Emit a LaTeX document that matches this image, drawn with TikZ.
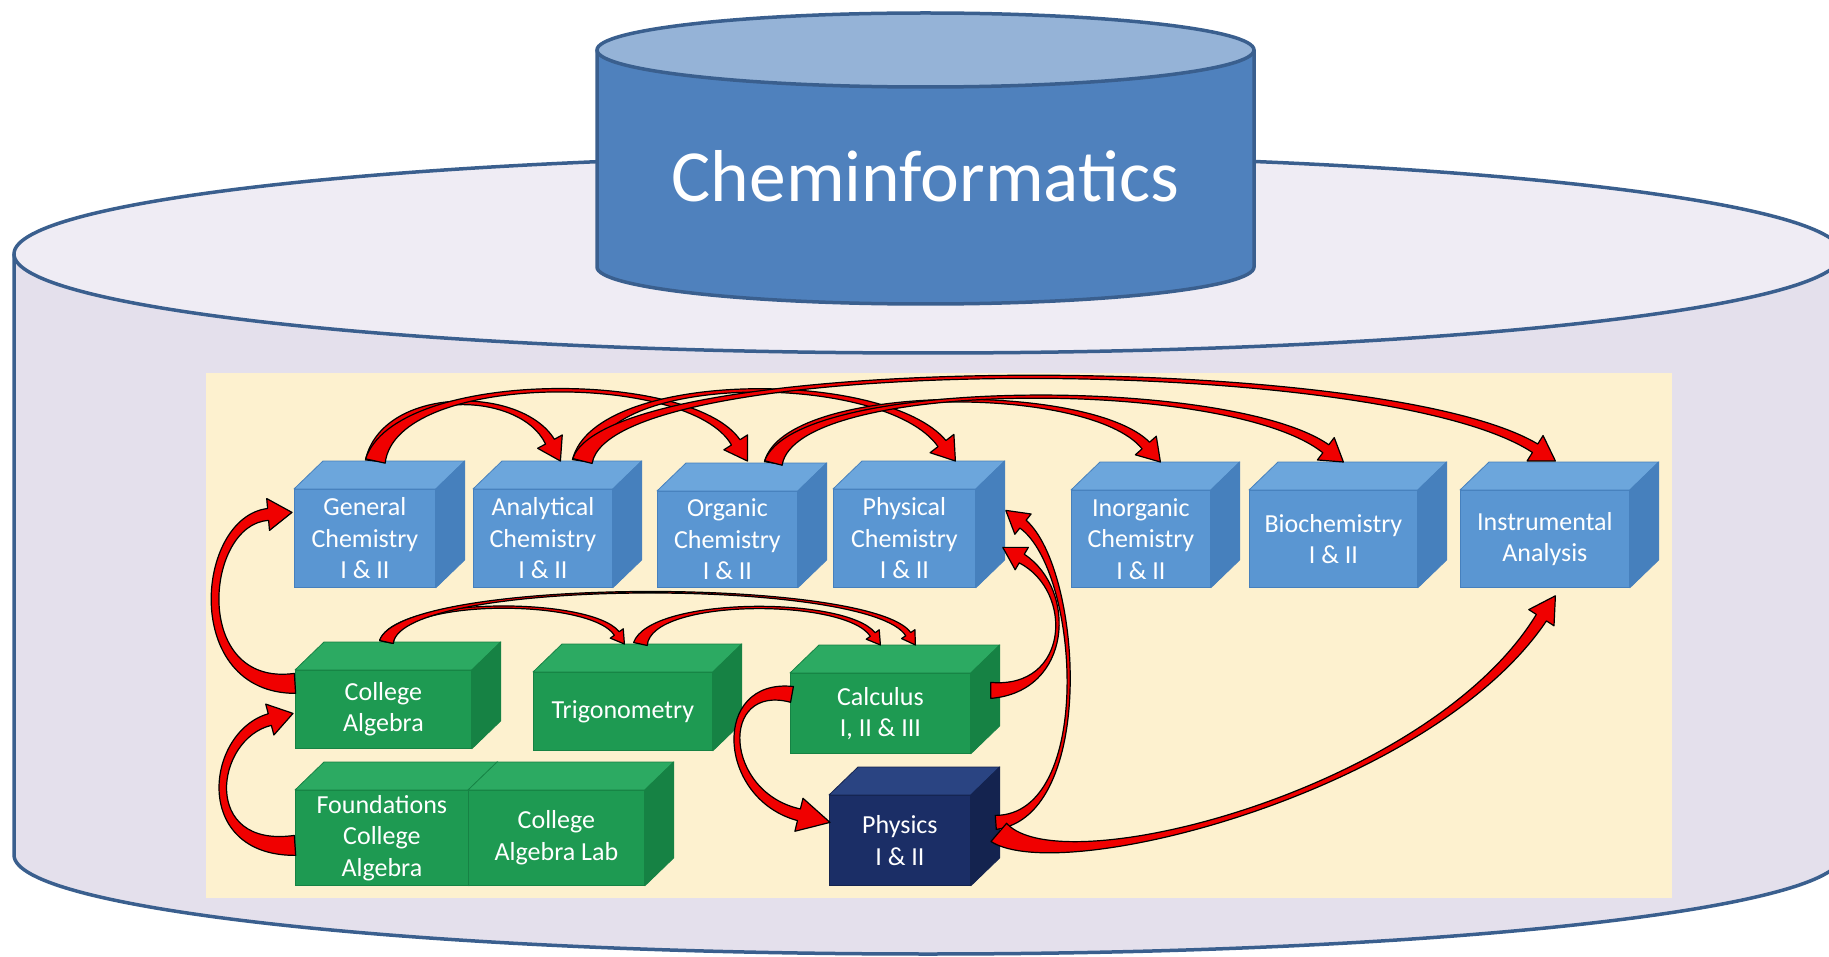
\documentclass[tikz,border=0pt]{standalone}
\usepackage{fontspec}
\usetikzlibrary{calc}
\newfontfamily\boxfont{Carlito}
\definecolor{cylline}{HTML}{3A5F8E}
\definecolor{lavside}{HTML}{E4E0EC}
\definecolor{lavtop}{HTML}{EFECF4}
\definecolor{drumbody}{HTML}{4F81BD}
\definecolor{drumtop}{HTML}{95B3D7}
\definecolor{panel}{HTML}{FDF1CF}
\definecolor{arrowred}{HTML}{F00000}
\definecolor{blufront}{HTML}{5A96D2}
\definecolor{blutop}{HTML}{6CA6DC}
\definecolor{bluside}{HTML}{4680BD}
\definecolor{grnfront}{HTML}{1E9A52}
\definecolor{grntop}{HTML}{2CAA62}
\definecolor{grnside}{HTML}{168244}
\definecolor{navfront}{HTML}{1B2E66}
\definecolor{navtop}{HTML}{2A4482}
\definecolor{navside}{HTML}{14234F}
\tikzset{
  box/.style={rectangle,inner sep=0pt,anchor=north west,line width=0.8pt,text=white,align=center,font=\boxfont\fontsize{26}{31.5}\selectfont},
  face/.style={line width=0.8pt,line join=round},
  ribbon/.style={fill=arrowred,draw=black,line width=1.2pt,line join=round},
  drum/.style={draw=cylline,line width=3.5pt}
}
\newcommand{\coursebox}[6]{%
  \node[box,fill=#5front,draw=#5side,minimum width=#3pt,minimum height=#4pt](#1)at#2{#6};
  \filldraw[face,fill=#5top,draw=#5side](#1.north west)--++(29,-28)--($(#1.north east)+(29,-28)$)--(#1.north east)--cycle;
  \filldraw[face,fill=#5side,draw=#5side](#1.north east)--++(29,-28)--($(#1.south east)+(29,-28)$)--(#1.south east)--cycle;}
\newcommand{\ribbonarrow}[9]{%
  \coordinate(rs)at#1; \coordinate(rt)at#4;
  \coordinate(ra)at($(rs)+#2$); \coordinate(rb)at($(rt)+#3$);
  \coordinate(rh)at($(rt)!#8!(rb)$);
  \coordinate(ra1)at($(rs)!#9!90:(rb)$); \coordinate(rb1)at($(ra)!#9!90:(rt)$);
  \filldraw[ribbon]($(rs)!#5!90:(ra)$)..controls($(ra)+(ra1)-(rs)$)and($(rb)+(rb1)-(ra)$)..($(rh)!#6!90:(rt)$)--($(rh)!#7!90:(rt)$)--(rt)
    --($(rh)!#7!-90:(rt)$)--($(rh)!#6!-90:(rt)$)..controls($(rb)-(rb1)+(ra)$)and($(ra)-(ra1)+(rs)$)..($(rs)!#5!-90:(ra)$)--cycle;}

\begin{document}
\begin{tikzpicture}[x=1pt,y=-1pt]
\useasboundingbox(0,0)rectangle(1829,957);
\clip(0,0)rectangle(1829,957);
\filldraw[drum,fill=lavside](14,254)--(14,855)arc[start angle=180,end angle=0,x radius=914,y radius=99]--(1842,254);
\filldraw[drum,fill=lavtop](928,254)ellipse[x radius=914,y radius=99];
\filldraw[drum,fill=drumbody](597,50)--(597,267)arc[start angle=180,end angle=0,x radius=328.5,y radius=37]--(1254,50);
\filldraw[drum,fill=drumtop](925.5,50)ellipse[x radius=328.5,y radius=37];
\node[anchor=base,text=white,font=\boxfont\fontsize{73.5}{88}\selectfont](title)at(925.5,202){Cheminformatics};
\fill[panel](206,373)rectangle(1672,898);

\coursebox{gen}{(294,489)}{141}{98}{blu}{General\\Chemistry\\I \& II}
\coursebox{ana}{(473,489)}{139}{98}{blu}{Analytical\\Chemistry\\I \& II}
\coursebox{org}{(657,491)}{140}{96}{blu}{Organic\\Chemistry\\I \& II}
\coursebox{phy}{(833,489)}{142}{98}{blu}{Physical\\Chemistry\\I \& II}
\coursebox{ino}{(1071,490)}{139}{97}{blu}{Inorganic\\Chemistry\\I \& II}
\coursebox{bio}{(1249,490)}{168}{97}{blu}{Biochemistry\\I \& II}
\coursebox{ins}{(1460,490)}{169}{97}{blu}{Instrumental\\Analysis}
\coursebox{cal}{(295,670)}{176}{78}{grn}{College\\Algebra}
\coursebox{tri}{(533,672)}{179}{78}{grn}{Trigonometry}
\coursebox{clc}{(790,673)}{180}{80}{grn}{Calculus\\I, II \& III}
\coursebox{fnd}{(295,790)}{173}{95}{grn}{Foundations\\College\\Algebra}
\coursebox{lab}{(468,790)}{176}{95}{grn}{College\\Algebra Lab}
\coursebox{phs}{(829,795)}{141}{90}{nav}{Physics\\I \& II}

\ribbonarrow{($(gen.north)+(10.5,-28)$)}{(8,-74)}{(-40,-74)}{($(ana.north)+(17.5,-28)$)}{10pt}{5pt}{14pt}{22pt}{2pt}
\ribbonarrow{($(gen.north)+(10.5,-28)$)}{(20,-91)}{(-57,-91)}{($(org.north)+(20,-30)$)}{10pt}{5pt}{14pt}{22pt}{1.5pt}
\ribbonarrow{($(ana.north)+(39.5,-28)$)}{(13,-91)}{(-70,-91)}{($(phy.north)+(51,-28)$)}{10pt}{5pt}{15pt}{22pt}{1.5pt}
\ribbonarrow{($(ana.north)+(39.5,-28)$)}{(28,-110)}{(-175,-110)}{($(ins.north)+(10.5,-29)$)}{10pt}{5pt}{15pt}{24pt}{1pt}
\ribbonarrow{($(org.north)+(46,-28)$)}{(12,-80)}{(-70,-79)}{($(ino.north)+(19.5,-28)$)}{9pt}{5pt}{14pt}{22pt}{1pt}
\ribbonarrow{($(org.north)+(46,-28)$)}{(22,-86)}{(-113,-85)}{($(bio.north)+(10,-28)$)}{9pt}{5pt}{14pt}{22pt}{1pt}
\ribbonarrow{($(cal.north)+(3,-28)$)}{(9,-45)}{(-34,-47)}{($(tri.north)+(1.5,-28)$)}{7pt}{3pt}{8pt}{13pt}{1pt}
\ribbonarrow{($(cal.north)+(3,-28)$)}{(14,-65)}{(-45,-68)}{($(clc.north)+(35,-28)$)}{7pt}{3pt}{8pt}{13pt}{0.5pt}
\ribbonarrow{($(tri.north)+(17.5,-28)$)}{(10,-47)}{(-35,-48)}{($(clc.north)+(0,-28)$)}{7pt}{3pt}{8pt}{13pt}{1pt}
\ribbonarrow{($(cal.west)+(0,-26)$)}{(-109,7)}{(-92,8)}{($(gen.west)+(-2,-26)$)}{10pt}{6pt}{16pt}{24pt}{6pt}
\ribbonarrow{($(fnd.west)+(0,7.5)$)}{(-99,7)}{(-83,22)}{($(cal.west)+(-2,4)$)}{10pt}{6pt}{16pt}{24pt}{6pt}
\ribbonarrow{($(clc.west)+(2,-19)$)}{(-77,-14)}{(-110,-27)}{($(phs.west)+(1,-18)$)}{8pt}{6pt}{17pt}{32pt}{5pt}
\ribbonarrow{($(clc.east)+(20,-23)$)}{(80,0)}{(73,43)}{($(phy.east)+(27,9)$)}{8pt}{5pt}{13pt}{22pt}{2pt}
\ribbonarrow{($(phs.east)+(25,-18)$)}{(100,-7)}{(75,60)}{($(phy.east)+(30,-28)$)}{7pt}{5pt}{13pt}{22pt}{1.5pt}
\ribbonarrow{($(phs.east)+(28,-8)$)}{(62,53)}{(-125,195)}{($(ins.south)+(10.5,8)$)}{12pt}{6pt}{15pt}{26pt}{1.5pt}
\end{tikzpicture}
\end{document}
